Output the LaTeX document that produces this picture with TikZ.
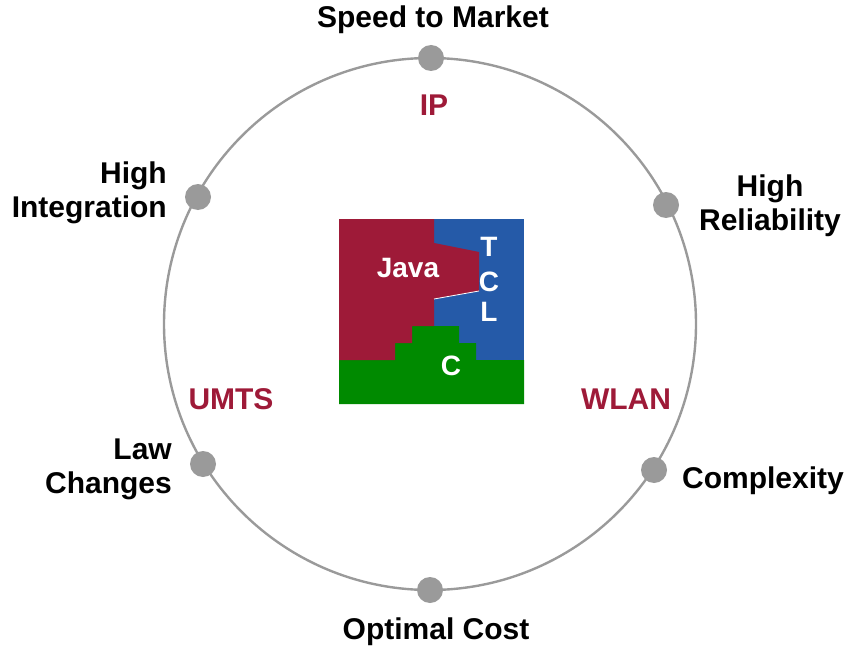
\documentclass[tikz,border=0pt]{standalone}
\usepackage{fontspec}
\setmainfont{Liberation Sans}
\definecolor{ringgray}{HTML}{9A9A9A}
\definecolor{javared}{HTML}{9E1A38}
\definecolor{tclblue}{HTML}{255AA8}
\definecolor{cgreen}{HTML}{008A00}
\begin{document}
\begin{tikzpicture}[x=1pt,y=-1pt,
  lbl/.style={font=\fontsize{30}{34}\selectfont\bfseries, inner sep=0pt, text=black},
  tech/.style={lbl, text=javared},
  inner/.style={font=\fontsize{28}{32}\selectfont\bfseries, inner sep=0pt, text=white},
  dot/.style={circle, fill=ringgray, minimum size=26pt, inner sep=0pt}]
\useasboundingbox (0,0) rectangle (846,650);

% ring
\draw[ringgray, line width=2.4pt] (430,324) circle[radius=266];
\node[dot] (d1) at (431,58) {};
\node[dot] (d2) at (198,197) {};
\node[dot] (d3) at (666,205) {};
\node[dot] (d4) at (203,464) {};
\node[dot] (d5) at (654,470) {};
\node[dot] (d6) at (430,590) {};

% language blocks
\fill[tclblue] (339,219) rectangle (524,404);
\fill[cgreen] (339,404) -- (524,404) -- (524,360) -- (476,360) -- (476,343) -- (459,343)
  -- (459,326) -- (412,326) -- (412,343) -- (395,343) -- (395,360) -- (339,360) -- cycle;
\fill[javared] (339,219) -- (434,219) -- (434,243) -- (479,252) -- (479,291) -- (434,299)
  -- (434,326) -- (412,326) -- (412,343) -- (395,343) -- (395,360) -- (339,360) -- cycle;
\draw[white, line width=0.8pt] (434,299) -- (479,291);

\node[inner] (java) at (408,268) {Java};
\node[inner] (t) at (489,247) {T};
\node[inner] (c1) at (489,282) {C};
\node[inner] (l) at (489,312) {L};
\node[inner] (c2) at (451,366) {C};

% labels
\node[lbl] (speed) at (433,20) {Speed to Market};
\node[tech] (ip) at (434,105) {IP};
\node[lbl, anchor=east, align=right] (integ) at (167,193) {High\\Integration};
\node[lbl, align=center] (relia) at (770,206) {High\\Reliability};
\node[tech] (umts) at (231,399) {UMTS};
\node[tech] (wlan) at (626,399) {WLAN};
\node[lbl, anchor=east, align=right] (law) at (172,469) {Law\\Changes};
\node[lbl] (compl) at (763,481) {Complexity};
\node[lbl] (cost) at (436,632) {Optimal Cost};
\end{tikzpicture}
\end{document}
